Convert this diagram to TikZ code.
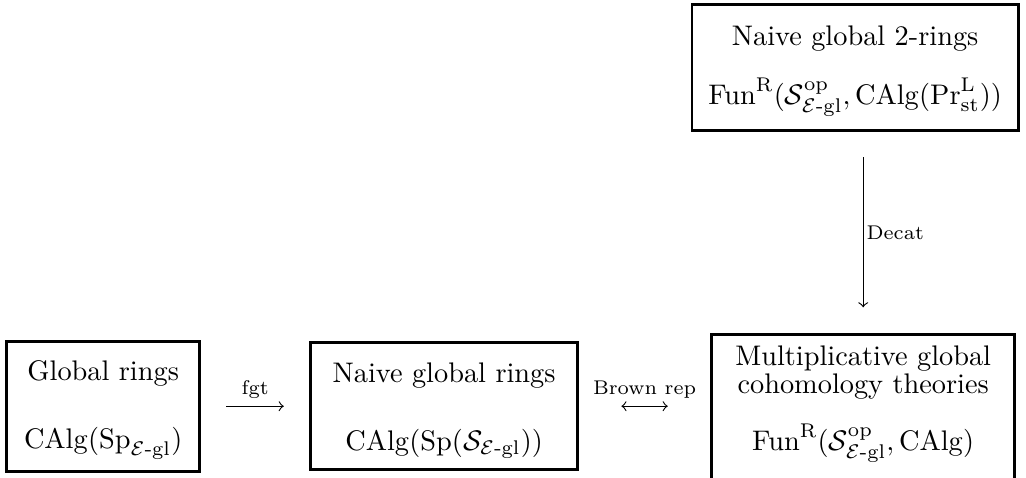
\documentclass[tikz,border=0pt]{standalone}
\usepackage{amsmath}
\usetikzlibrary{positioning}

\newcommand{\topstrut}[1]{\rule{0pt}{#1}}

\begin{document}
\begin{tikzpicture}[box/.style={draw,line width=1pt,align=center,inner sep=4pt},
  lbl/.style={font=\scriptsize,inner sep=2.5pt}]
\useasboundingbox (0,0) rectangle (12.73,5.93);

\node[box,minimum width=2.39cm,minimum height=1.53cm] at (1.28,0.89) (gl)
  {\topstrut{10pt}Global rings\\[12pt]$\mathrm{CAlg}(\mathrm{Sp}_{\mathcal{E}\text{-gl}})$};
\node[box,minimum width=3.31cm,minimum height=1.50cm] at (5.51,0.89) (ngl)
  {\topstrut{10pt}Naive global rings\\[12pt]$\mathrm{CAlg}(\mathrm{Sp}(\mathcal{S}_{\mathcal{E}\text{-gl}}))$};
\node[box,minimum width=4.05cm,minimum height=1.56cm] at (10.61,5.09) (nv2)
  {\topstrut{9.7pt}Naive global 2-rings\\[8.6pt]$\mathrm{Fun}^{\mathrm{R}}(\mathcal{S}^{\mathrm{op}}_{\mathcal{E}\text{-gl}},\mathrm{CAlg}(\mathrm{Pr}^{\mathrm{L}}_{\mathrm{st}}))$};
\node[box,minimum width=3.76cm,anchor=north,text depth=50pt] at (10.71,1.80) (mgc)
  {Multiplicative global\\[-2pt]cohomology theories\\[8pt]$\mathrm{Fun}^{\mathrm{R}}(\mathcal{S}^{\mathrm{op}}_{\mathcal{E}\text{-gl}},\mathrm{CAlg})$};

\draw[->,shorten <=9pt,shorten >=9pt] (gl) -- (ngl) node[midway,above,lbl] {fgt};
\draw[<->,shorten <=15pt,shorten >=15pt] (ngl.east) -- (ngl.east -| mgc.west) node[midway,above,lbl] {Brown rep};
\draw[->,shorten <=9pt,shorten >=9pt] (nv2.south -| mgc.north) -- (mgc.north) node[midway,right,lbl,inner sep=1pt] {Decat};
\end{tikzpicture}
\end{document}
